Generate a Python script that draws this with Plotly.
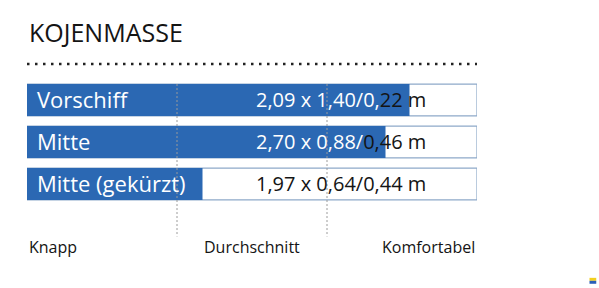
import plotly.graph_objects as go

# ---- data ----
title = "KOJENMASSE"
kojen = ["Vorschiff", "Mitte", "Mitte (gekürzt)"]
bewertung = [2.55, 2.39, 1.17]          # position on 0..3 comfort scale
laenge = [2.09, 2.70, 1.97]             # m
breite_kopf = [1.40, 0.88, 0.64]        # m
breite_fuss = [0.22, 0.46, 0.44]        # m
skala_max = 3
zonen = ["Knapp", "Durchschnitt", "Komfortabel"]
zonen_pos = [0, 1.5, 3]
grenzen = [1, 2]

# ---- style ----
BLUE = "#2b68b3"
BORDER = "#8ea9c9"
DARK = "#141414"
FONT = "Open Sans"
white_chars = [14, 12, 0]   # number of leading characters drawn white (over blue)

def de(v):
    return f"{v:.2f}".replace(".", ",")

fig = go.Figure()
fig.add_trace(go.Bar(
    y=kojen, x=[skala_max] * len(kojen), orientation="h",
    marker=dict(color="white", line=dict(color=BORDER, width=1.2)),
    width=0.76, hoverinfo="skip", showlegend=False))
fig.add_trace(go.Bar(
    y=kojen, x=bewertung, orientation="h",
    marker=dict(color=BLUE, line=dict(width=0)),
    width=0.76, hoverinfo="skip", showlegend=False))

ann = []
for i, name in enumerate(kojen):
    ann.append(dict(x=0, y=name, xref="x", yref="y", text=name, showarrow=False,
                    xanchor="left", yanchor="middle", xshift=8, yshift=1,
                    font=dict(family=FONT, size=22, color="white")))
    txt = f"{de(laenge[i])} x {de(breite_kopf[i])}/{de(breite_fuss[i])} m"
    k = white_chars[i]
    html = (f"<span style='color:white'>{txt[:k]}</span>" if k else "") + \
           f"<span style='color:{DARK}'>{txt[k:]}</span>"
    ann.append(dict(x=2.093, y=name, xref="x", yref="y", text=html, showarrow=False,
                    xanchor="center", yanchor="middle", yshift=1,
                    font=dict(family=FONT, size=20, color=DARK)))

anchors = ["left", "center", "right"]
for z, p, a in zip(zonen, zonen_pos, anchors):
    ann.append(dict(x=p, y=3.5, xref="x", yref="y", text=z, showarrow=False,
                    xanchor=a, yanchor="middle",
                    font=dict(family=FONT, size=16, color=DARK)))

ann.append(dict(x=0, y=1.162, xref="paper", yref="paper", text=title, showarrow=False,
                xanchor="left", yanchor="middle",
                font=dict(family=FONT, size=25, color=DARK)))

shapes = []
# dotted separator under title
shapes.append(dict(type="line", xref="x", yref="paper", x0=0, x1=skala_max * 1.003,
                   y0=1.0, y1=1.0, line=dict(color="#222", width=2.5, dash="2.5px,5.5px")))
for g in grenzen:
    shapes.append(dict(type="line", xref="x", yref="y", x0=g, x1=g, y0=-0.38, y1=3.25,
                       layer="above", line=dict(color="#9a9a9a", width=1, dash="2px,2px")))
# small logo
shapes.append(dict(type="rect", xref="paper", yref="paper", x0=1.25, x1=1.265,
                   y0=-0.08, y1=-0.095, line=dict(width=0), fillcolor="#f2cf1f"))
shapes.append(dict(type="rect", xref="paper", yref="paper", x0=1.25, x1=1.265,
                   y0=-0.095, y1=-0.11, line=dict(width=0), fillcolor="#2b5fb8"))

fig.update_layout(
    width=599, height=288,
    margin=dict(l=27, r=122, t=64, b=26),
    paper_bgcolor="white", plot_bgcolor="white",
    barmode="overlay",
    xaxis=dict(range=[0, skala_max], visible=False, fixedrange=True),
    yaxis=dict(range=[3.857, -0.857], visible=False, fixedrange=True,
               categoryorder="array", categoryarray=kojen),
    annotations=ann, shapes=shapes,
)
fig.write_html("out.html")
